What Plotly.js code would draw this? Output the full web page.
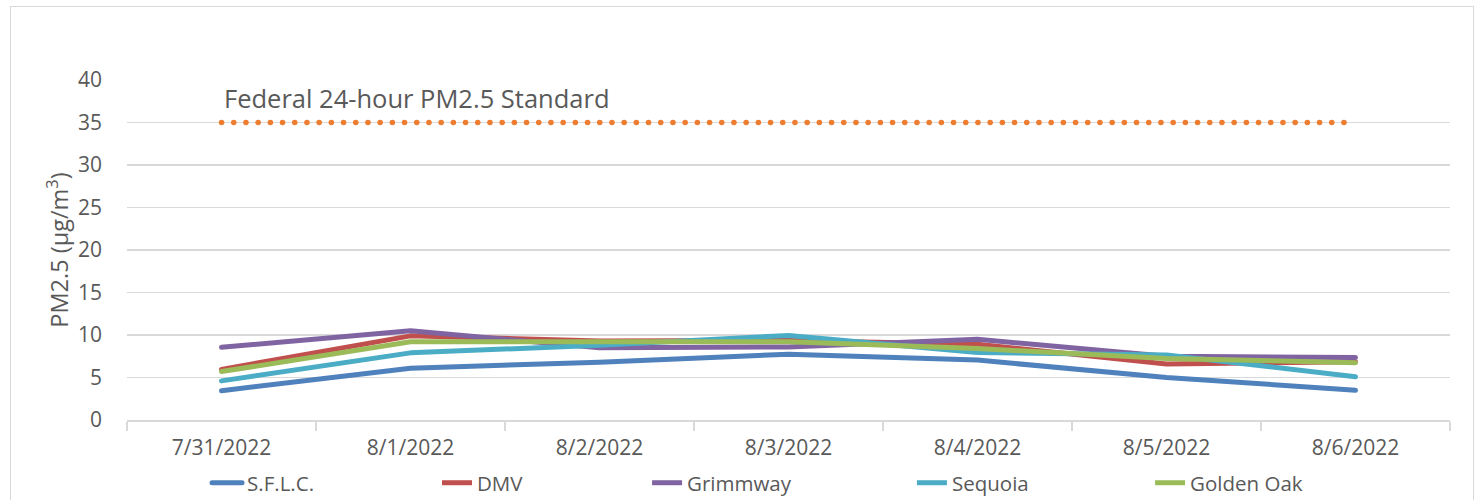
<!DOCTYPE html>
<html>
<head>
<meta charset="utf-8">
<script src="https://cdn.plot.ly/plotly-3.0.1.min.js"></script>
<style>
  html, body { margin: 0; padding: 0; background: #fff; }
  #wrap { position: relative; width: 1480px; height: 500px; overflow: hidden; }
  #chart { position: absolute; left: 0; top: 0; width: 1480px; height: 500px; }
  #frame { position: absolute; left: 10px; top: 6px; width: 1462px; height: 600px;
           border: 1.5px solid #D9D9D9; pointer-events: none; }
  .scatterlayer path.js-line { stroke-linecap: round !important; stroke-linejoin: round !important; }
  .legend path.js-line { stroke-linecap: round !important; }
</style>
</head>
<body>
<div id="wrap">
  <div id="chart"></div>
  <div id="frame"></div>
</div>
<script>
// ---- data ----
const categories = ["7/31/2022", "8/1/2022", "8/2/2022", "8/3/2022", "8/4/2022", "8/5/2022", "8/6/2022"];
const sflc      = [3.45, 6.1, 6.8, 7.75, 7.05, 5.0, 3.5];
const dmv       = [5.95, 9.9, 9.3, 9.35, 8.9, 6.6, 6.85];
const grimmway  = [8.55, 10.5, 8.5, 8.6, 9.5, 7.5, 7.35];
const sequoia   = [4.6, 7.9, 8.8, 9.95, 7.95, 7.65, 5.1];
const goldenOak = [5.7, 9.2, 9.2, 9.2, 8.4, 7.25, 6.75];
const federalStd = [35, 35, 35, 35, 35, 35, 35];
const seriesNames = ["S.F.L.C.", "DMV", "Grimmway", "Sequoia", "Golden Oak"];
const standardLabel = "Federal 24-hour PM2.5 Standard";
const yTitle = "PM2.5 (µg/m<sup>3</sup>)";

// ---- style ----
const colors = ["#4F81BD", "#C0504D", "#8064A2", "#4BACC6", "#9BBB59"];
const font = "'Open Sans', 'DejaVu Sans', sans-serif";
const grey = "#595959";
const legendX = [0.0605, 0.2343, 0.3931, 0.5933, 0.7733]; // paper positions of legend entries

const seriesValues = [sflc, dmv, grimmway, sequoia, goldenOak];
const traces = seriesValues.map((vals, i) => ({
  type: "scatter", mode: "lines",
  x: categories, y: vals, name: seriesNames[i],
  line: { color: colors[i], width: 5 },
  legend: i === 0 ? "legend" : "legend" + (i + 1),
  hoverinfo: "skip"
}));
traces.push({
  type: "scatter", mode: "lines",
  x: categories, y: federalStd, name: standardLabel,
  line: { color: "#ED7D31", width: 5.5, dash: "0.1px,12.1px" },
  showlegend: false, hoverinfo: "skip"
});

const layout = {
  width: 1480, height: 500,
  margin: { l: 127, r: 30, t: 80, b: 80, autoexpand: false },
  paper_bgcolor: "#ffffff", plot_bgcolor: "#ffffff",
  font: { family: font, size: 20, color: grey },
  showlegend: true,
  xaxis: {
    type: "category",
    range: [-0.5, 6.5],
    tickson: "boundaries",
    ticks: "outside", ticklen: 9, tickcolor: "#D9D9D9", tickwidth: 1.5,
    showline: true, linecolor: "#D9D9D9", linewidth: 1.5,
    showgrid: false, zeroline: false,
    tickfont: { family: font, size: 21, color: grey },
    ticklabelstandoff: 8,
    automargin: false,
    fixedrange: true
  },
  yaxis: {
    range: [0, 40], dtick: 5, tick0: 0,
    showline: false, zeroline: false,
    gridcolor: "#D9D9D9", gridwidth: 1.5,
    ticks: "",
    tickfont: { family: font, size: 21, color: grey },
    ticklabelstandoff: 24,
    title: { text: yTitle, font: { family: font, size: 23.5, color: grey }, standoff: 2 },
    automargin: false,
    fixedrange: true
  },
  annotations: [{
    x: categories[0], y: federalStd[0], xref: "x", yref: "y",
    text: standardLabel, showarrow: false,
    xanchor: "left", yanchor: "bottom", xshift: 0, yshift: 5,
    font: { family: font, size: 25.5, color: grey }
  }]
};
seriesNames.forEach((n, i) => {
  const key = i === 0 ? "legend" : "legend" + (i + 1);
  layout[key] = {
    x: legendX[i], y: -0.185, xanchor: "left", yanchor: "middle",
    orientation: "h", bgcolor: "rgba(0,0,0,0)",
    font: { family: font, size: 20.5, color: grey },
    itemwidth: 30, tracegroupgap: 0
  };
});

Plotly.newPlot("chart", traces, layout, { staticPlot: true, displayModeBar: false });
</script>
</body>
</html>
